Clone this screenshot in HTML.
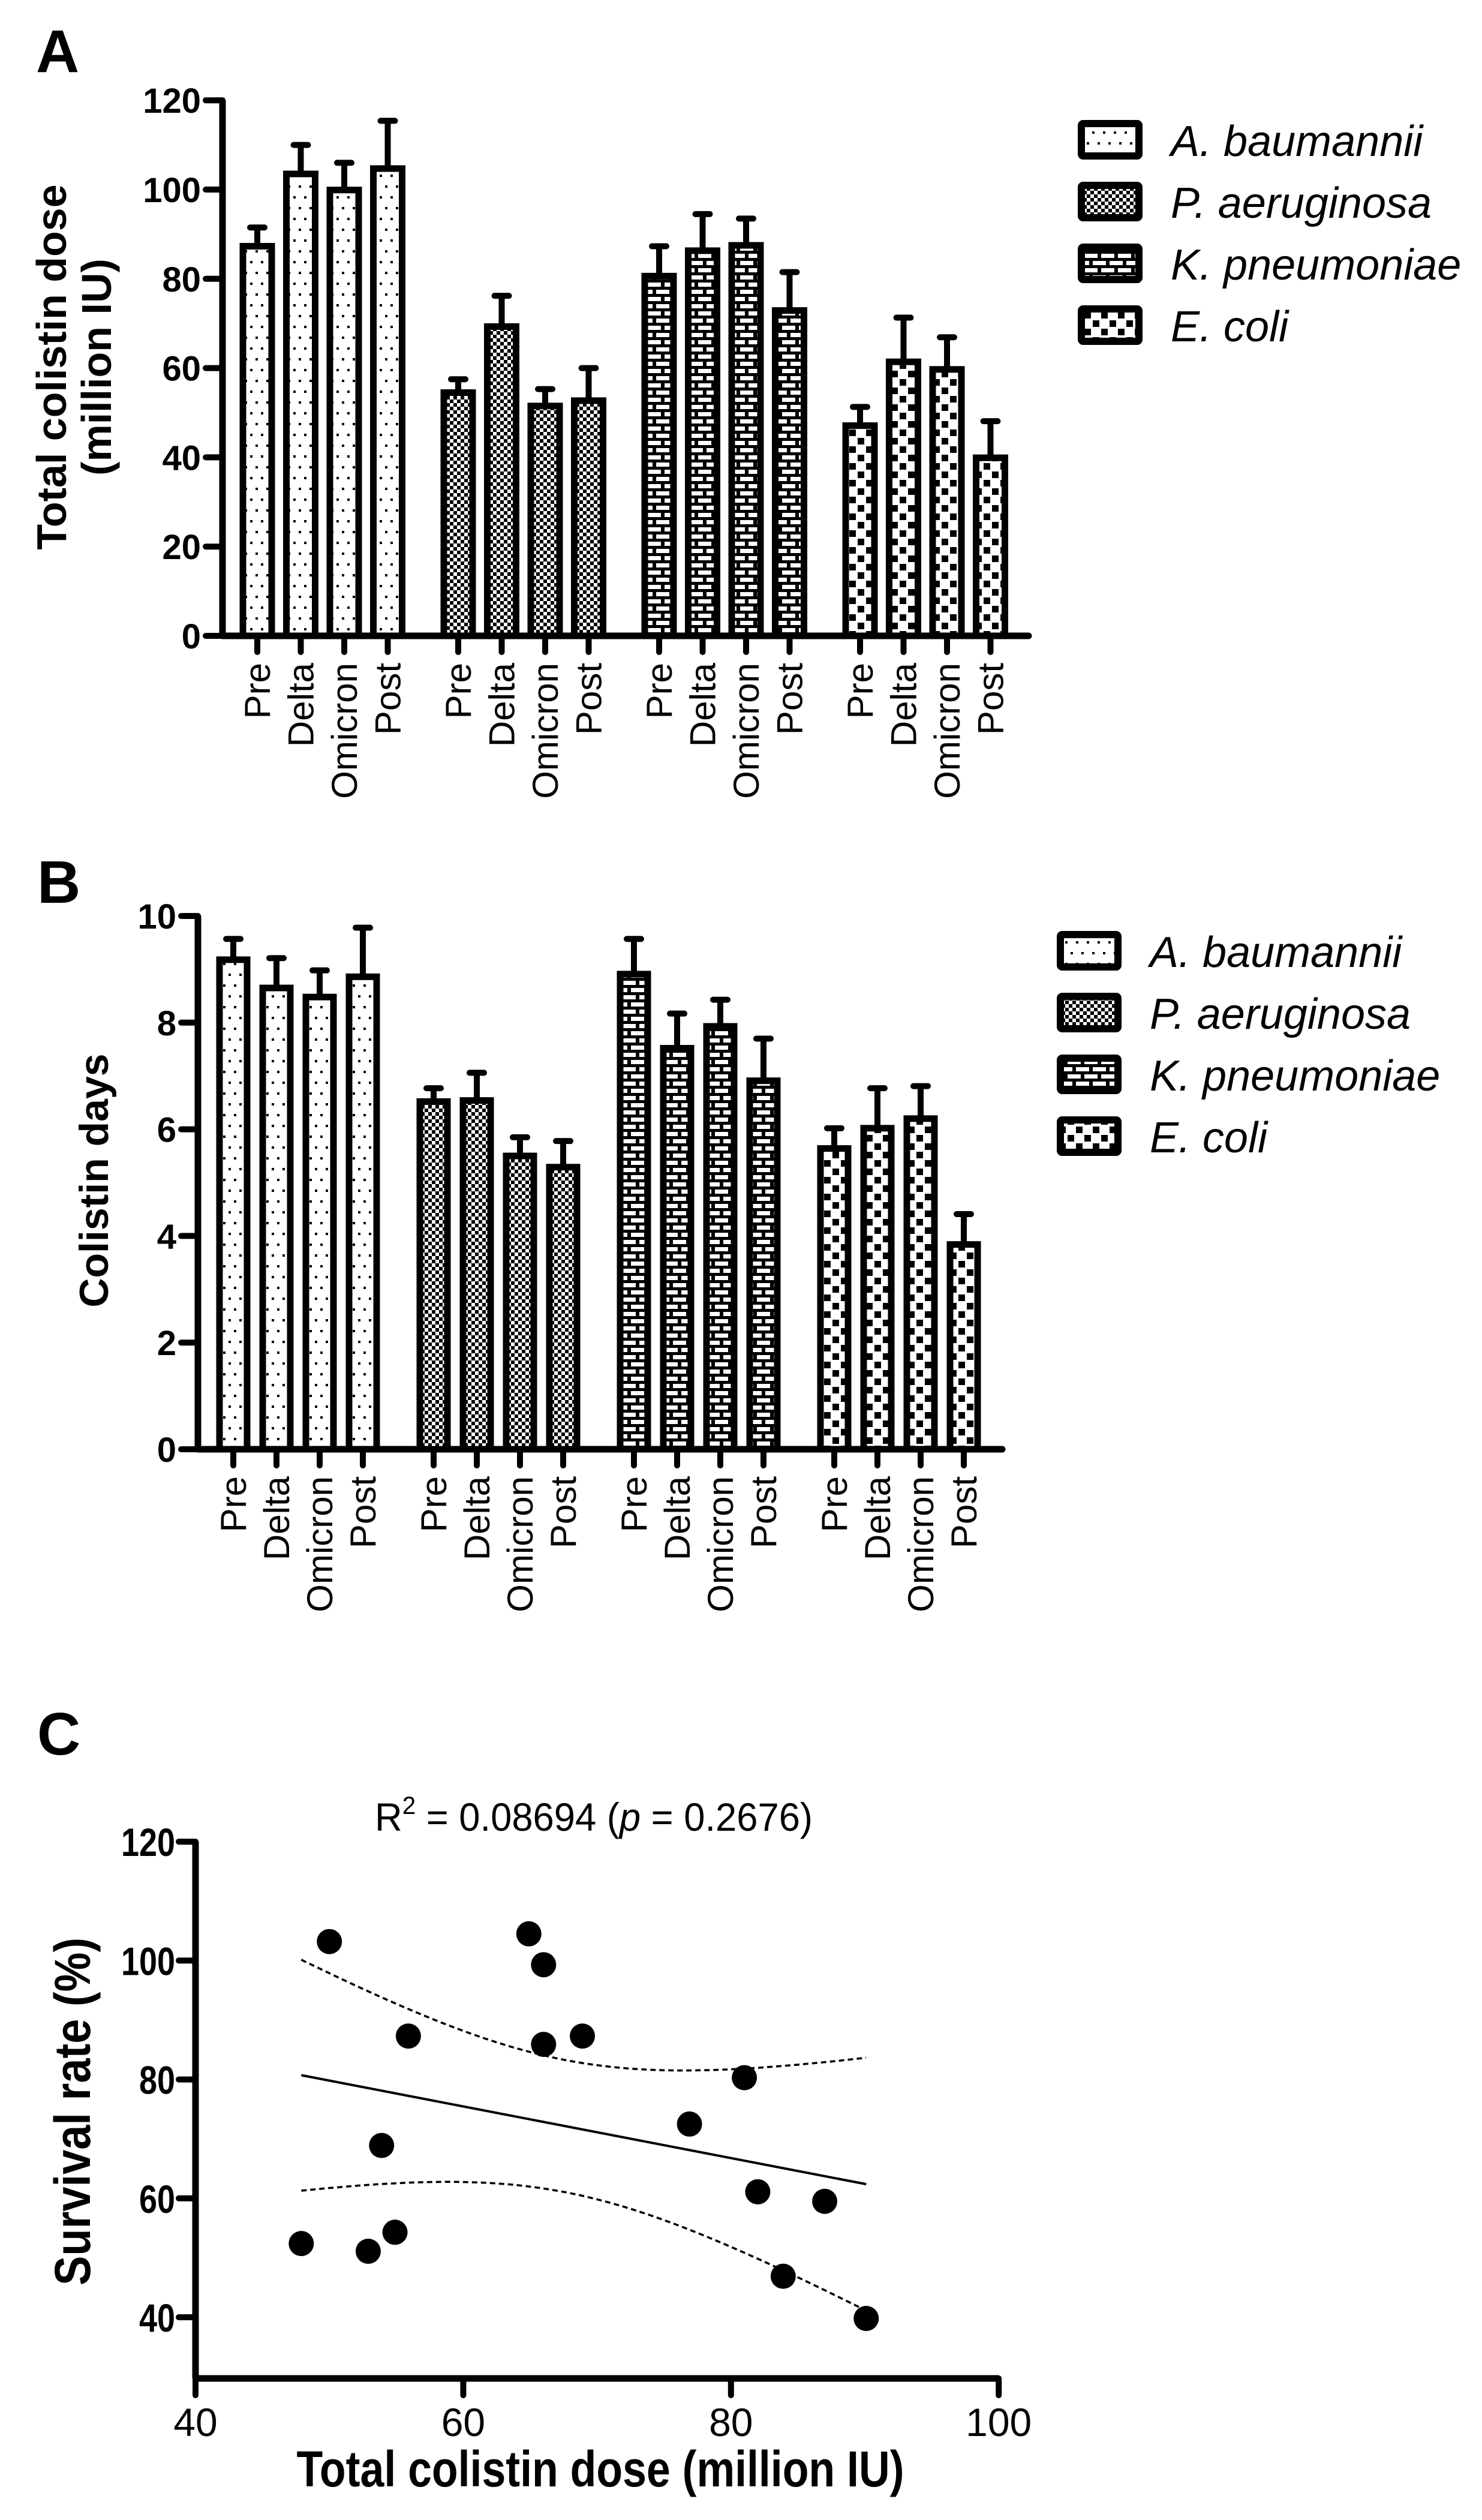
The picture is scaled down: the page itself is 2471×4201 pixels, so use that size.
<!DOCTYPE html>
<html><head><meta charset="utf-8"><style>
html,body{margin:0;padding:0;background:#fff;}
svg{display:block;}
</style></head><body>
<svg id="fig" width="2471" height="4201" viewBox="0 0 2471 4201" xmlns="http://www.w3.org/2000/svg" font-family="Liberation Sans, Arial, sans-serif">
<defs>
<pattern id="pat-dots" patternUnits="userSpaceOnUse" width="18" height="36"><rect width="18" height="36" fill="#fff"/><rect x="3" y="3" width="4" height="4" fill="#000"/><rect x="12" y="21" width="4" height="4" fill="#000"/></pattern>
<pattern id="pat-fine" patternUnits="userSpaceOnUse" width="12" height="12"><rect width="12" height="12" fill="#fff"/><rect x="0" y="0" width="6" height="6" fill="#000"/><rect x="6" y="6" width="6" height="6" fill="#000"/></pattern>
<pattern id="pat-brick" patternUnits="userSpaceOnUse" width="28" height="24"><rect width="28" height="24" fill="#000"/><rect x="2" y="3" width="22" height="7" fill="#fff"/><rect x="16" y="15" width="22" height="7" fill="#fff"/><rect x="-12" y="15" width="22" height="7" fill="#fff"/></pattern>
<pattern id="pat-check" patternUnits="userSpaceOnUse" width="28" height="28"><rect width="28" height="28" fill="#fff"/><rect x="2" y="2" width="11" height="11" fill="#000"/><rect x="16" y="16" width="11" height="11" fill="#000"/></pattern>
</defs>
<text x="60" y="120" font-size="100" font-weight="bold">A</text>
<text x="62" y="1505" font-size="100" font-weight="bold">B</text>
<text x="62" y="2925" font-size="100" font-weight="bold">C</text>
<g id="panelA"></g>
<g id="panelB"></g>
<g id="panelC"></g>
</svg>
<script>
const NS='http://www.w3.org/2000/svg';
const periods=['Pre','Delta','Omicron','Post'];
const species=['A. baumannii','P. aeruginosa','K. pneumoniae','E. coli'];
const patterns=['pat-dots','pat-fine','pat-brick','pat-check'];
// Panel A: total colistin dose (million IU)
const doseMean=[87.3,103.5,99.9,104.7, 54.5,69.3,51.5,52.7, 80.6,86.3,87.5,72.9, 47.1,61.4,59.7,39.9];
const doseErr =[91.5,110,106,115.4, 57.5,76.2,55.3,60, 87.3,94.5,93.5,81.5, 51.3,71.3,66.9,48.1];
const doseTicks=[0,20,40,60,80,100,120];
// Panel B: colistin days
const daysMean=[9.18,8.65,8.48,8.86, 6.52,6.54,5.50,5.29, 8.91,7.52,7.93,6.91, 5.64,6.02,6.20,3.84];
const daysErr =[9.57,9.21,8.98,9.78, 6.77,7.06,5.85,5.78, 9.57,8.17,8.43,7.70, 6.02,6.77,6.81,4.41];
const daysTicks=[0,2,4,6,8,10];
// Panel C: scatter
const scX=[47.9,50.0,52.9,53.9,54.9,55.9,64.9,66.0,66.0,68.9,76.9,81.0,82.0,83.9,87.0,90.1];
const scY=[52.4,103.2,51.1,68.9,54.3,87.3,104.5,99.3,85.9,87.3,72.5,80.3,61.1,46.9,59.5,39.8];
const cXTicks=[40,60,80,100];
const cYTicks=[40,60,80,100,120];

function mk(tag,attrs,parent){const e=document.createElementNS(NS,tag);for(const k in attrs)e.setAttribute(k,attrs[k]);parent.appendChild(e);return e;}

function barPanel(g,cfg){
  const y=v=>cfg.y0-(v-cfg.vmin)*cfg.ppu;
  const xc=i=>cfg.x0+Math.floor(i/4)*cfg.gstep+(i%4)*cfg.step;
  // bars
  cfg.mean.forEach((m,i)=>{
    const e=cfg.err[i], cx=xc(i), top=y(m);
    const eb=mk('line',{x1:cx,y1:top,x2:cx,y2:y(e),stroke:'#000','stroke-width':10},g);
    
    
    const cap=mk('line',{x1:cx-12,y1:y(e),x2:cx+12,y2:y(e),stroke:'#000','stroke-width':10,'stroke-linecap':'round'},g);
    
    
    const r=mk('rect',{x:cx-cfg.bw/2+5,y:top,width:cfg.bw-10,height:cfg.y0-top,fill:'url(#'+patterns[Math.floor(i/4)]+')',stroke:'#000','stroke-width':11},g);
    
    
    const t=mk('line',{x1:cx,y1:cfg.y0,x2:cx,y2:cfg.y0+27,stroke:'#000','stroke-width':10,'stroke-linecap':'round'},g);
    
    
    const lab=mk('text',{x:0,y:0,'font-size':60,'text-anchor':'end',transform:'translate('+(cx+21)+','+(cfg.y0+45)+') rotate(-90)'},g);
    lab.textContent=periods[i%4];
    
    
  });
  // axes
  const ya=mk('line',{x1:cfg.ax,y1:y(cfg.ticks[cfg.ticks.length-1]),x2:cfg.ax,y2:cfg.y0,stroke:'#000','stroke-width':11},g);
  
  
  const xa=mk('line',{x1:cfg.ax,y1:cfg.y0,x2:cfg.xend,y2:cfg.y0,stroke:'#000','stroke-width':11,'stroke-linecap':'round'},g);
  
  
  cfg.ticks.forEach(v=>{
    const tk=mk('line',{x1:cfg.ax-28,y1:y(v),x2:cfg.ax,y2:y(v),stroke:'#000','stroke-width':10,'stroke-linecap':'round'},g);
    
    
    const tl=mk('text',{x:cfg.ax-36,y:y(v)+21,'font-size':58,'font-weight':'bold','text-anchor':'end'},g);
    tl.textContent=v;
    
    
  });
  // legend
  species.forEach((s,k)=>{
    const ly=cfg.ly+k*103;
    const b=mk('rect',{x:cfg.lx+6,y:ly-27,width:96,height:54,fill:'url(#'+patterns[k]+')',stroke:'#000','stroke-width':12,rx:3},g);
    
    
    const t=mk('text',{x:cfg.lx+155,y:ly+27,'font-size':72,'font-style':'italic'},g);
    t.textContent=s;
    
    
  });
}
barPanel(document.getElementById('panelA'),{mean:doseMean,err:doseErr,ticks:doseTicks,vmin:0,y0:1060,ppu:7.44,x0:429,step:72.5,gstep:335,bw:58,ax:371,xend:1715,lx:1797,ly:233});
barPanel(document.getElementById('panelB'),{mean:daysMean,err:daysErr,ticks:daysTicks,vmin:0,y0:2416,ppu:88.9,x0:389,step:72,gstep:334,bw:56,ax:330,xend:1671,lx:1762,ly:1585});
// Axis titles A, B
(function(){
  const s=document.getElementById('fig');
  let t=mk('text',{x:0,y:0,'font-size':70,'font-weight':'bold','text-anchor':'middle',transform:'translate(110,612) rotate(-90)'},s);
  t.textContent='Total colistin dose';
  
  
  t=mk('text',{x:0,y:0,'font-size':70,'font-weight':'bold','text-anchor':'middle',transform:'translate(185,612) rotate(-90)'},s);
  t.textContent='(million IU)';
  
  
  t=mk('text',{x:0,y:0,'font-size':68,'font-weight':'bold','text-anchor':'middle',transform:'translate(180,1968) rotate(-90)'},s);
  t.textContent='Colistin days';
  
  
})();
// Panel C
(function(){
  const g=document.getElementById('panelC');
  const X=v=>326+(v-40)*22.32, Y=v=>3863-(v-40)*9.91;
  const xa=mk('line',{x1:326,y1:3965,x2:1665,y2:3965,stroke:'#000','stroke-width':11},g);
  
  
  const ya=mk('line',{x1:326,y1:Y(120),x2:326,y2:3965,stroke:'#000','stroke-width':11},g);
  
  
  cXTicks.forEach(v=>{
    const t=mk('line',{x1:X(v),y1:3965,x2:X(v),y2:3993,stroke:'#000','stroke-width':10,'stroke-linecap':'round'},g);
    
    
    const l=mk('text',{x:X(v),y:4061,'font-size':66,'text-anchor':'middle'},g);
    l.textContent=v;
    
    
  });
  cYTicks.forEach(v=>{
    const t=mk('line',{x1:298,y1:Y(v),x2:326,y2:Y(v),stroke:'#000','stroke-width':10,'stroke-linecap':'round'},g);
    
    
    const l=mk('text',{x:292,y:Y(v)+24,'font-size':66,'font-weight':'bold','text-anchor':'end',textLength:90,lengthAdjust:'spacingAndGlyphs'},g);
    if(v<100){l.setAttribute('textLength',60);}
    l.textContent=v;
    
    
  });
  // regression
  const n=scX.length, mx=scX.reduce((a,b)=>a+b)/n, my=scY.reduce((a,b)=>a+b)/n;
  let sxx=0,sxy=0; for(let i=0;i<n;i++){sxx+=(scX[i]-mx)**2;sxy+=(scX[i]-mx)*(scY[i]-my);}
  const b1=sxy/sxx,b0=my-b1*mx; let sse=0; for(let i=0;i<n;i++){sse+=(scY[i]-b0-b1*scX[i])**2;}
  const se=Math.sqrt(sse/(n-2)), tcrit=2.145;
  const xmin=Math.min(...scX), xmax=Math.max(...scX);
  const reg=mk('line',{x1:X(xmin),y1:Y(b0+b1*xmin),x2:X(xmax),y2:Y(b0+b1*xmax),stroke:'#000','stroke-width':4},g);
  
  
  [1,-1].forEach(sg=>{
    let d='';
    for(let k=0;k<=60;k++){const xv=xmin+(xmax-xmin)*k/60;const h=tcrit*se*Math.sqrt(1/n+(xv-mx)**2/sxx);d+=(k?'L':'M')+X(xv).toFixed(1)+' '+Y(b0+b1*xv+sg*h).toFixed(1);}
    const p=mk('path',{d:d,fill:'none',stroke:'#000','stroke-width':3.5,'stroke-dasharray':'9 6'},g);
    
    
  });
  scX.forEach((xv,i)=>{
    const c=mk('circle',{cx:X(xv),cy:Y(scY[i]),r:21,fill:'#000'},g);
    
    
  });
  const r2=mk('text',{x:990,y:3052,'font-size':66,'text-anchor':'middle',textLength:730,lengthAdjust:'spacingAndGlyphs'},g);
  r2.innerHTML='R<tspan dy="-28" font-size="42">2</tspan><tspan dy="28"> = 0.08694 (</tspan><tspan font-style="italic">p</tspan><tspan> = 0.2676)</tspan>';
  
  
  const xt=mk('text',{x:1001,y:4145,'font-size':84,'font-weight':'bold','text-anchor':'middle',textLength:1013,lengthAdjust:'spacingAndGlyphs'},g);
  xt.textContent='Total colistin dose (million IU)';
  
  
  const yt=mk('text',{x:0,y:0,'font-size':84,'font-weight':'bold','text-anchor':'middle',textLength:580,lengthAdjust:'spacingAndGlyphs',transform:'translate(150,3520) rotate(-90)'},g);
  yt.textContent='Survival rate (%)';
  
  
})();
</script>
</body></html>
